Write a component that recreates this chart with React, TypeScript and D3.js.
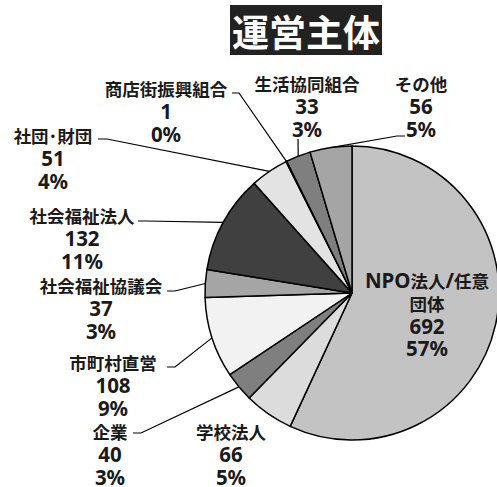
import React from "react";
import * as d3 from "d3";

const categories = ["NPO法人/任意団体", "学校法人", "企業", "市町村直営", "社会福祉協議会", "社会福祉法人", "社団･財団", "商店街振興組合", "生活協同組合", "その他"];
const values = [692, 66, 40, 108, 37, 132, 51, 1, 33, 56];
const percents = ["57%", "5%", "3%", "9%", "3%", "11%", "4%", "0%", "3%", "5%"];
const titleText = "運営主体";

// layout (label line breaks, positions, leader stubs)
const labelLines = [
  ["NPO法人/任意", "団体"],
  ["学校法人"],
  ["企業"],
  ["市町村直営"],
  ["社会福祉協議会"],
  ["社会福祉法人"],
  ["社団･財団"],
  ["商店街振興組合"],
  ["生活協同組合"],
  ["その他"],
];
const labelPos: [number, number][] = [
  [427, 280], [231, 431], [110, 431], [113, 362], [101, 285],
  [82, 215], [53, 135], [166, 88], [307, 83], [421, 83],
];
// leader: start point and stub (null = none)
const leaders: ([number, number, number, number] | null)[] = [
  null, null,
  [133, 433, 8, 0],
  [167, 367, 8, 0],
  [167, 291, 8, 0],
  [138, 221, 8, 0],
  [98, 139, 9, 0],
  [232, 93, 7, 0],
  [298, 139, 0, 0],
  [405, 136, -8, 0],
];
const colors = ["#c3c3c3", "#dcdcdc", "#7f7f7f", "#f2f2f2", "#a5a5a5", "#404040", "#e3e3e3", "#bfbfbf", "#7f7f7f", "#a5a5a5"];

const W = 497, H = 487;
const cx = 352, cy = 293, R = 147;
const lineH = 22.8;

function runs(s: string) {
  const out: { t: string; latin: boolean }[] = [];
  for (const ch of s) {
    const latin = /[\x00-\x7F]/.test(ch);
    const last = out[out.length - 1];
    if (last && last.latin === latin) last.t += ch;
    else out.push({ t: ch, latin });
  }
  return out;
}

function Line({ x, y, text }: { x: number; y: number; text: string }) {
  return (
    <text x={x} y={y} textAnchor="middle" dominantBaseline="central" fontWeight={700} fill="#1a1a1a" fontFamily="'Noto Sans CJK JP', 'Noto Sans', sans-serif">
      {runs(text).map((r, i) => (
        <tspan key={i} fontSize={r.latin ? 20.5 : 17.5} fontFamily={r.latin ? "'Noto Sans', sans-serif" : "'Noto Sans CJK JP', sans-serif"}>{r.t}</tspan>
      ))}
    </text>
  );
}

export default function App() {
  const pie = d3.pie<number>().sort(null).value((d) => d)(values);
  const arc = d3.arc<d3.PieArcDatum<number>>().innerRadius(0).outerRadius(R);
  return (
    <svg width={W} height={H} style={{ position: "absolute", left: 0, top: 0, background: "#fff" }}>
      <rect x={230} y={5} width={152} height={50} fill="#222" />
      <text x={306} y={31} textAnchor="middle" dominantBaseline="central" fontSize={37} fontWeight={700} fill="#fff" fontFamily="'Noto Sans CJK JP', sans-serif">{titleText}</text>
      <g transform={`translate(${cx},${cy})`}>
        {pie.map((p, i) => (
          <path key={i} d={arc(p) || ""} fill={colors[i]} stroke="#000" strokeWidth={1.5} strokeLinejoin="round" />
        ))}
      </g>
      {pie.map((p, i) => {
        const l = leaders[i];
        if (!l) return null;
        const a = (p.startAngle + p.endAngle) / 2;
        const ex = cx + Math.sin(a) * R;
        const ey = cy - Math.cos(a) * R;
        const pts = [[l[0], l[1]], [l[0] + l[2], l[1] + l[3]], [ex, ey]];
        return <polyline key={"l" + i} points={pts.map((q) => q.join(",")).join(" ")} fill="none" stroke="#000" strokeWidth={1.2} />;
      })}
      {categories.map((c, i) => {
        const [x, y] = labelPos[i];
        const lines = [...labelLines[i], String(values[i]), percents[i]];
        return (
          <g key={"t" + i}>
            {lines.map((t, j) => (
              <Line key={j} x={x} y={y + j * lineH} text={t} />
            ))}
          </g>
        );
      })}
    </svg>
  );
}
